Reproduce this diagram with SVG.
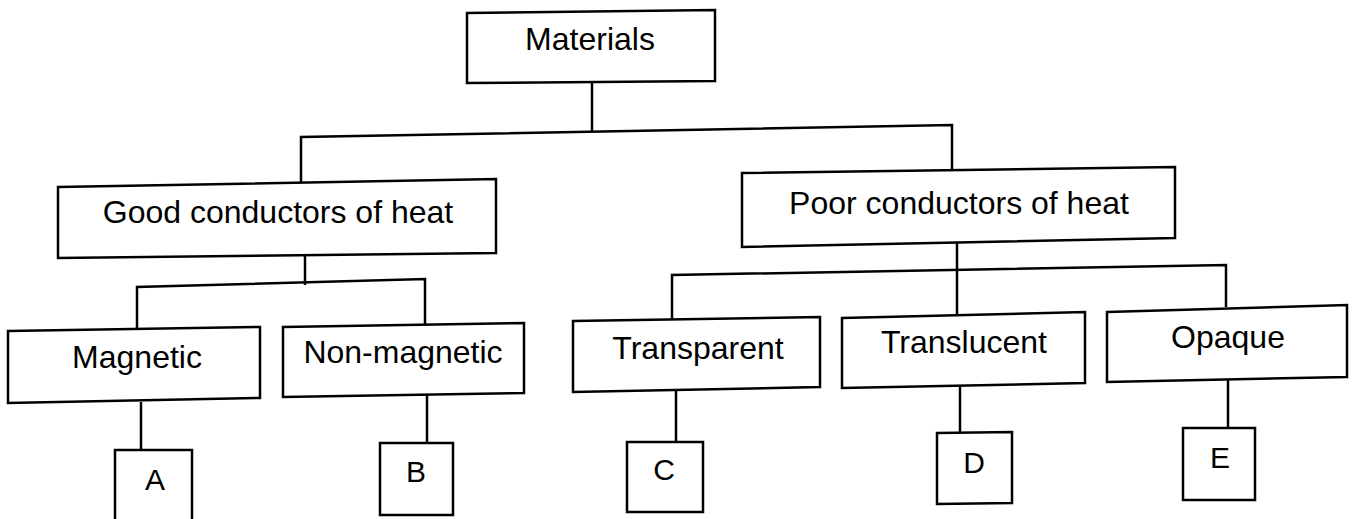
<svg xmlns="http://www.w3.org/2000/svg" width="1355" height="519" viewBox="0 0 1355 519">
<style>
.box{fill:#fff;stroke:#000;stroke-width:2.5;stroke-linejoin:miter}
.ln{fill:none;stroke:#000;stroke-width:2.5}
.t{font-family:"Liberation Sans",Arial,sans-serif;font-size:32px;fill:#000;text-anchor:middle}
.s{font-size:30px}
</style>
<rect width="1355" height="519" fill="#fff"/>
<g id="connectors">
<path class="ln" d="M592,83 V131"/>
<path class="ln" d="M301,182 V137 L952,125 V170"/>
<path class="ln" d="M305,256 V285"/>
<path class="ln" d="M137,331 V287 L425,279 V325"/>
<path class="ln" d="M141,402 V450"/>
<path class="ln" d="M427,395 V443"/>
<path class="ln" d="M957,242 V315"/>
<path class="ln" d="M672,321 V275 L1226,265 V307"/>
<path class="ln" d="M676,390 V442"/>
<path class="ln" d="M960,386 V433"/>
<path class="ln" d="M1228,380 V428"/>
</g>
<g id="materials">
<polygon class="box" points="467,13 715,10 715,81 467,83"/>
<text class="t" x="590" y="50">Materials</text>
</g>
<g id="good">
<polygon class="box" points="58,187 496,179 496,253 58,258"/>
<text class="t" x="278" y="223">Good conductors of heat</text>
</g>
<g id="poor">
<polygon class="box" points="742,173 1175,167 1175,238 742,247"/>
<text class="t" x="959" y="214">Poor conductors of heat</text>
</g>
<g id="magnetic">
<polygon class="box" points="8,331 260,327 260,398 8,403"/>
<text class="t" x="137" y="368">Magnetic</text>
</g>
<g id="nonmagnetic">
<polygon class="box" points="283,327 524,323 524,393 283,397"/>
<text class="t" x="403" y="363">Non-magnetic</text>
</g>
<g id="transparent">
<polygon class="box" points="573,321 820,317 820,387 573,392"/>
<text class="t" x="698" y="359">Transparent</text>
</g>
<g id="translucent">
<polygon class="box" points="842,318 1085,312 1085,383 842,388"/>
<text class="t" x="964" y="353">Translucent</text>
</g>
<g id="opaque">
<polygon class="box" points="1107,312 1347,305 1347,377 1107,382"/>
<text class="t" x="1228" y="348">Opaque</text>
</g>
<g id="A">
<path class="box" d="M115,522 V450 H192 V522"/>
<text class="t s" x="155" y="490">A</text>
</g>
<g id="B">
<polygon class="box" points="380,443 453,443 453,515 380,515"/>
<text class="t s" x="416" y="482">B</text>
</g>
<g id="C">
<polygon class="box" points="627,442 703,442 703,512 627,512"/>
<text class="t s" x="664" y="480">C</text>
</g>
<g id="D">
<polygon class="box" points="937,433 1012,432 1012,503 937,504"/>
<text class="t s" x="974" y="473">D</text>
</g>
<g id="E">
<polygon class="box" points="1183,428 1255,428 1255,500 1183,500"/>
<text class="t s" x="1220" y="468">E</text>
</g>
</svg>
